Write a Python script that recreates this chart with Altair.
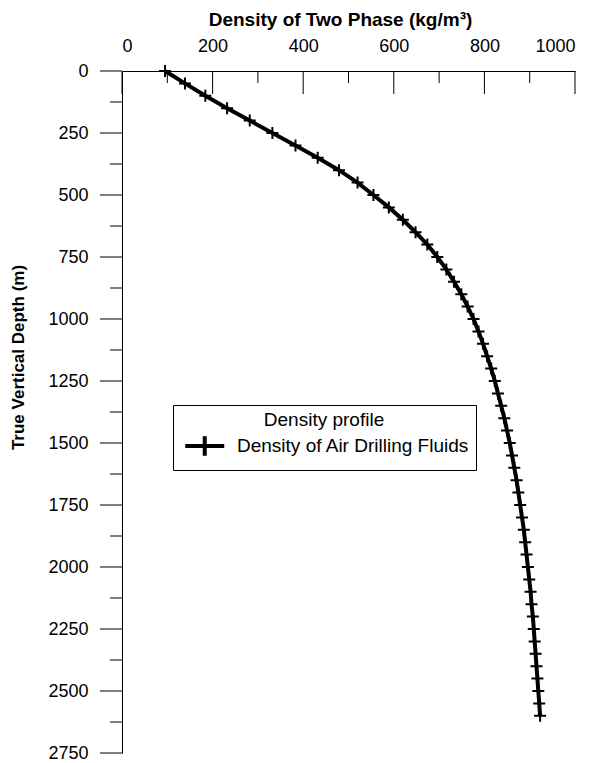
import altair as alt
import pandas as pd

# ---- data ----
depth_m = [0, 50, 100, 150, 200, 250, 300, 350, 400, 450, 500, 550, 600, 650, 700,
           750, 800, 850, 900, 950, 1000, 1050, 1100, 1150, 1200, 1250, 1300, 1350,
           1400, 1450, 1500, 1550, 1600, 1650, 1700, 1750, 1800, 1850, 1900, 1950,
           2000, 2050, 2100, 2150, 2200, 2250, 2300, 2350, 2400, 2450, 2500, 2550, 2600]
density = [95, 139, 184, 232, 282, 332, 383, 432, 479, 520, 555, 589, 620, 648, 674,
           696, 716, 733, 749, 763, 776, 787, 797, 806, 815, 823, 830, 837,
           844, 850, 856, 861, 866, 871, 875, 879, 883, 887, 890, 893,
           896, 899, 902, 904, 907, 909, 911, 913, 915, 917, 919, 921, 923]
x_major = [0, 200, 400, 600, 800, 1000]
x_minor = [100, 300, 500, 700, 900]
y_major = [0, 250, 500, 750, 1000, 1250, 1500, 1750, 2000, 2250, 2500, 2750]
y_minor = [125, 375, 625, 875, 1125, 1375, 1625, 1875, 2125, 2375, 2625]
series_name = "Density of Air Drilling Fluids"
legend_title = "Density profile"
x_title = "Density of Two Phase (kg/m³)"
y_title = "True Vertical Depth (m)"

df = pd.DataFrame({"depth": depth_m, "density": density, "series": series_name})
xmaj = pd.DataFrame({"density": x_major, "kind": "major"})
xmin = pd.DataFrame({"density": x_minor, "kind": "minor"})
ymaj = pd.DataFrame({"depth": y_major, "kind": "major"})
ymin = pd.DataFrame({"depth": y_minor, "kind": "minor"})

FONT = "Liberation Sans"
PLUS = "M-1,0H1M0,-1V1"
LEG = "M-1,0H3M1,-1V1"

xscale = alt.Scale(domain=[0, 1000], nice=False, zero=False)
yscale = alt.Scale(domain=[0, 2750], reverse=True, nice=False, zero=False)

line = alt.Chart(df).mark_line(strokeWidth=4, clip=False).encode(
    x=alt.X("density:Q", scale=xscale,
            axis=alt.Axis(orient="top", values=x_major, ticks=False, labelPadding=16,
                          format="d", title=x_title, titleX=218, titleY=-52,
                          titleFontSize=19,
                          titleAlign="center", titleBaseline="middle", grid=False)),
    y=alt.Y("depth:Q", scale=yscale,
            axis=alt.Axis(orient="left", values=y_major, ticks=False, labelPadding=34,
                          format="d", title=y_title, titleX=-104, titleY=286, titleAngle=270,
                          titleFontSize=17,
                          titleAlign="center", titleBaseline="middle", grid=False)),
    stroke=alt.Stroke("series:N",
                      scale=alt.Scale(domain=[series_name], range=["black"]),
                      legend=alt.Legend(title=legend_title, orient="none",
                                        legendX=51, legendY=334, padding=6,
                                        strokeColor="black", fillColor="white",
                                        titleAnchor="middle", titleFontWeight="normal",
                                        titleFontSize=19, titleFont=FONT, titleColor="black",
                                        titlePadding=4, rowPadding=0,
                                        labelFontSize=19, labelFont=FONT, labelColor="black",
                                        labelLimit=400, labelOffset=30,
                                        symbolType=LEG, symbolSize=380, symbolOffset=4,
                                        symbolStrokeWidth=4, symbolStrokeColor="black")),
    order="depth:Q",
)

points = alt.Chart(df).mark_point(shape=PLUS, size=144, strokeWidth=2, color="black",
                                  filled=False, opacity=1, clip=False).encode(
    x=alt.X("density:Q", scale=xscale),
    y=alt.Y("depth:Q", scale=yscale),
)

x_major_ticks = alt.Chart(xmaj).mark_rule(color="black", strokeWidth=1).encode(
    x=alt.X("density:Q", scale=xscale), y=alt.value(0), y2=alt.value(23))
x_minor_ticks = alt.Chart(xmin).mark_rule(color="black", strokeWidth=1).encode(
    x=alt.X("density:Q", scale=xscale), y=alt.value(0), y2=alt.value(12))
y_major_ticks = alt.Chart(ymaj).mark_rule(color="black", strokeWidth=1).encode(
    y=alt.Y("depth:Q", scale=yscale), x=alt.value(-22), x2=alt.value(0))
y_minor_ticks = alt.Chart(ymin).mark_rule(color="black", strokeWidth=1).encode(
    y=alt.Y("depth:Q", scale=yscale), x=alt.value(-12), x2=alt.value(0))

chart = alt.layer(line, points, x_major_ticks, x_minor_ticks,
                  y_major_ticks, y_minor_ticks).properties(
    width=453, height=682,
    autosize=alt.AutoSizeParams(type="none"),
    padding={"left": 122, "top": 71, "right": 33, "bottom": 10},
    background="white",
).configure_view(stroke=None).configure_axis(
    labelFont=FONT, labelFontSize=18, labelColor="black",
    titleFont=FONT, titleFontWeight="bold", titleColor="black",
    domainColor="black", tickColor="black", domainWidth=1, tickWidth=1,
)

chart.save("out.html", embed_options={"renderer": "svg", "actions": False})
